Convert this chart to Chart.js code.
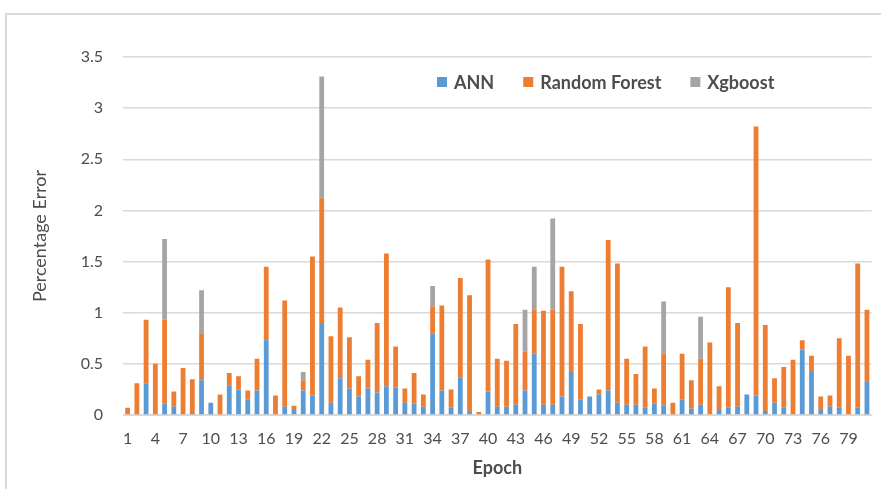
<!DOCTYPE html>
<html><head><meta charset="utf-8">
<script src="https://cdn.jsdelivr.net/npm/chart.js@4"></script>
<style>
html,body{margin:0;padding:0;background:#fff;}
#wrap{position:relative;width:881px;height:489px;overflow:hidden;background:#fff;}
#frame{position:absolute;left:5px;top:13px;width:900px;height:500px;border:2px solid #d9d9d9;box-sizing:border-box;}
canvas{position:absolute;left:0;top:0;}
</style></head>
<body><div id="wrap"><div id="frame"></div><canvas id="c" width="881" height="489"></canvas></div>
<script>
const epochs = ['1','2','3','4','5','6','7','8','9','10','11','12','13','14','15','16','17','18','19','20',
'21','22','23','24','25','26','27','28','29','30','31','32','33','34','35','36','37','38','39','40',
'41','42','43','44','45','46','47','48','49','50','51','52','53','54','55','56','57','58','59','60',
'61','62','63','64','65','66','67','68','69','70','71','72','73','74','75','76','77','78','79','80','81'];

// stacked segment values (percentage error)
const annErr = [0,0,0.31,0,0.11,0.08,0,0.02,0.34,0.12,
0,0.29,0.25,0.15,0.24,0.73,0,0.08,0.05,0.24,
0.19,0.90,0.12,0.36,0.26,0.18,0.26,0.22,0.28,0.27,
0.12,0.11,0.08,0.80,0.24,0.07,0.37,0.03,0,0.23,
0.08,0.08,0.10,0.24,0.60,0.10,0.10,0.18,0.42,0.15,
0.18,0.20,0.24,0.12,0.10,0.10,0.07,0.11,0.09,0,
0.15,0.06,0.10,0,0.05,0.07,0.08,0.20,0.19,0.04,
0.12,0.07,0,0.64,0.42,0.05,0.08,0.07,0,0.07,
0.33];
const rfErr = [0.07,0.31,0.62,0.50,0.82,0.15,0.46,0.33,0.46,0,
0.20,0.12,0.13,0.09,0.31,0.72,0.19,1.04,0.04,0.10,
1.36,1.22,0.65,0.69,0.50,0.20,0.28,0.68,1.30,0.40,
0.14,0.30,0.12,0.26,0.83,0.18,0.97,1.14,0.03,1.29,
0.47,0.45,0.79,0.38,0.43,0.92,0.93,1.27,0.79,0.74,
0,0.05,1.47,1.36,0.45,0.30,0.60,0.15,0.51,0.12,
0.45,0.28,0.45,0.71,0.23,1.18,0.82,0,2.63,0.84,
0.24,0.40,0.54,0.09,0.16,0.13,0.11,0.68,0.58,1.41,
0.70];
const xgbErr = [0,0,0,0,0.79,0,0,0,0.42,0,
0,0,0,0,0,0,0,0,0,0.08,
0,1.19,0,0,0,0,0,0,0,0,
0,0,0,0.20,0,0,0,0,0,0,
0,0,0,0.41,0.42,0,0.89,0,0,0,
0,0,0,0,0,0,0,0,0.51,0,
0,0,0.41,0,0,0,0,0,0,0,
0,0,0,0,0,0,0,0,0,0,
0];
const yTicks = [0,0.5,1,1.5,2,2.5,3,3.5];
const yTickLabels = ['0','0.5','1','1.5','2','2.5','3','3.5'];
const seriesNames = ['ANN','Random Forest','Xgboost'];
const seriesColors = ['#5B9BD5','#ED7D31','#A5A5A5'];

const textColor = '#4d4d4d';
const legendPlugin = {
  id:'insideLegend',
  afterDraw(chart){
    const ctx = chart.ctx;
    ctx.save();
    ctx.font = 'bold 18px Lato';
    ctx.textBaseline = 'middle';
    ctx.textAlign = 'left';
    let x = 437; const y = 82;
    chart.data.datasets.forEach(ds=>{
      ctx.fillStyle = ds.backgroundColor;
      ctx.fillRect(x, y-5, 10, 10);
      ctx.fillStyle = textColor;
      ctx.fillText(ds.label, x+17, y+1);
      x += 17 + ctx.measureText(ds.label).width + 29;
    });
    ctx.restore();
  }
};

new Chart(document.getElementById('c'), {
  type:'bar',
  data:{
    labels: epochs,
    datasets:[
      {label:seriesNames[0], data:annErr, backgroundColor:seriesColors[0]},
      {label:seriesNames[1], data:rfErr, backgroundColor:seriesColors[1]},
      {label:seriesNames[2], data:xgbErr, backgroundColor:seriesColors[2]}
    ]
  },
  options:{
    responsive:false,
    animation:false,
    datasets:{bar:{categoryPercentage:1, barPercentage:0.52, borderWidth:0}},
    layout:{padding:{left:5,right:9,top:57,bottom:0}},
    plugins:{legend:{display:false}, tooltip:{enabled:false}},
    scales:{
      x:{
        stacked:true,
        grid:{display:false, drawTicks:false},
        border:{display:true, color:'#d9d9d9'},
        ticks:{autoSkip:false, maxRotation:0, minRotation:0, padding:14, color:textColor,
          font:{family:'Lato', size:16},
          callback:(v,i)=> (i%3===0 ? epochs[i] : '')},
        title:{display:true, text:'Epoch', color:textColor, font:{family:'Lato', size:18, weight:'bold'}, padding:{top:0,bottom:10}},
        afterFit:s=>{ s.height = 74; }
      },
      y:{
        stacked:true, min:0, max:3.5,
        afterBuildTicks:s=>{ s.ticks = yTicks.map(v=>({value:v})); },
        grid:{color:'#d9d9d9', drawTicks:false, lineWidth:1.5},
        border:{display:false},
        ticks:{padding:20, color:textColor, font:{family:'Lato', size:16},
          callback:(v)=> yTickLabels[yTicks.indexOf(v)]},
        title:{display:true, text:'Percentage Error', color:textColor, font:{family:'Lato', size:18}, padding:{top:24,bottom:0}},
        afterFit:s=>{ s.width = 118; }
      }
    }
  },
  plugins:[legendPlugin]
});
</script>
</body></html>
